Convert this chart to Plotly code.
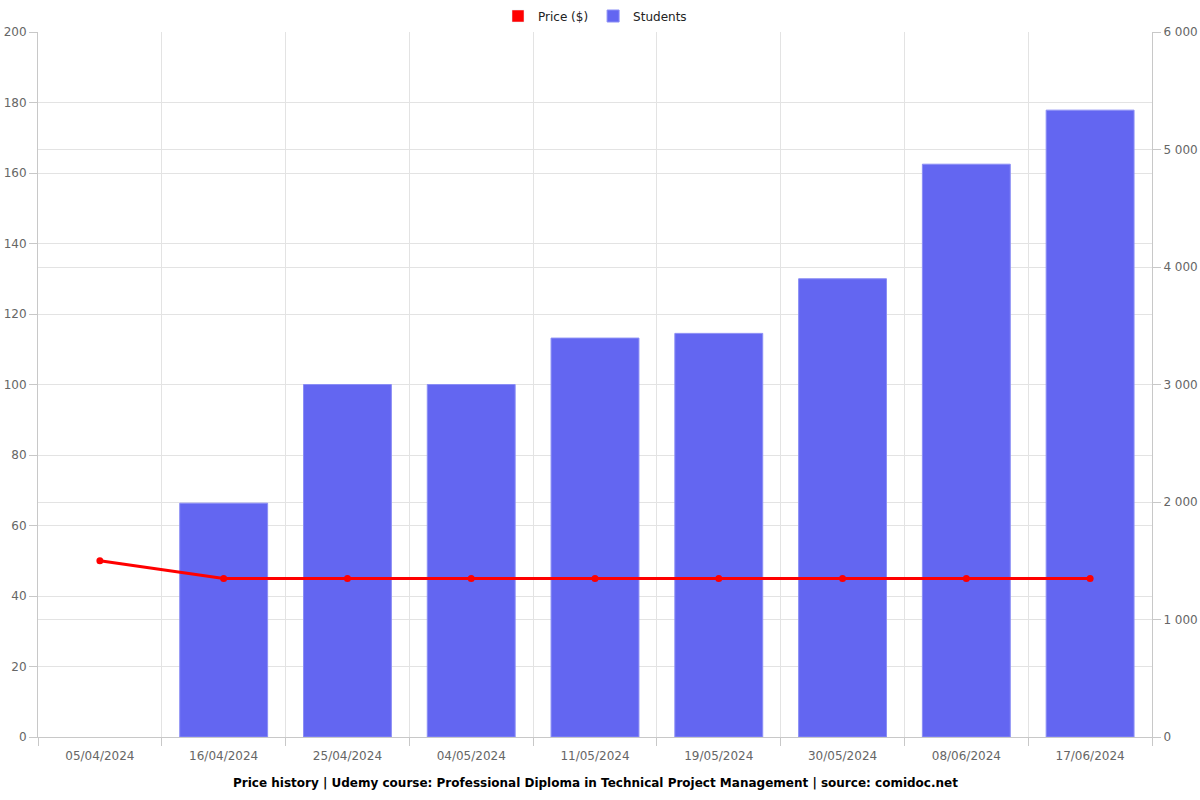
import plotly.graph_objects as go

dates = ["05/04/2024", "16/04/2024", "25/04/2024", "04/05/2024", "11/05/2024",
         "19/05/2024", "30/05/2024", "08/06/2024", "17/06/2024"]
price = [50, 45, 45, 45, 45, 45, 45, 45, 45]
students = [None, 1990, 3000, 3000, 3395, 3435, 3900, 4875, 5335]

left_ticks = list(range(0, 201, 20))
right_ticks = list(range(0, 6001, 1000))

title = "Price history | Udemy course: Professional Diploma in Technical Project Management | source: comidoc.net"

grid = "#e3e3e3"
axis_line = "#c8c8c8"
tick_font = dict(family="DejaVu Sans", size=12, color="#666666")

fig = go.Figure()
fig.add_trace(go.Bar(x=[dates[0]], y=[None], name="Price ($)", marker=dict(color="#ff0000"),
                     yaxis="y", showlegend=True, hoverinfo="skip"))
fig.add_trace(go.Bar(x=dates, y=students, name="Students", yaxis="y",
                     marker=dict(color="#6366f1", line=dict(color="#8b8ef5", width=1))))
fig.add_trace(go.Scatter(x=dates, y=price, name="Price ($)", mode="lines+markers",
                         line=dict(color="#ff0000", width=3), marker=dict(color="#ff0000", size=7),
                         showlegend=False, yaxis="y2"))

fig.update_layout(
    width=1200, height=800,
    margin=dict(l=38, r=48, t=32, b=63, autoexpand=False),
    paper_bgcolor="white", plot_bgcolor="white",
    separators=". ",
    barmode="overlay",
    bargap=0.29,
    font=dict(family="DejaVu Sans", size=12, color="#666666"),
    legend=dict(orientation="h", x=0.5, xanchor="center", y=1 + 16 / 705, yanchor="middle",
                font=dict(family="DejaVu Sans", size=12, color="#222222"),
                traceorder="normal"),
    xaxis=dict(type="category", tickson="boundaries", showgrid=True, gridcolor=grid,
               showline=True, linecolor=axis_line, ticks="outside", ticklen=8, tickcolor=axis_line,
               tickfont=tick_font, range=[-0.5, 8.5], ticklabelstandoff=8),
    yaxis2=dict(range=[0, 200], tickvals=left_ticks, overlaying="y", side="left",
                showgrid=True, gridcolor=grid,
                showline=True, linecolor=axis_line, ticks="outside", ticklen=8, tickcolor=axis_line,
                tickfont=tick_font, zeroline=False),
    yaxis=dict(range=[0, 6000], tickvals=right_ticks, side="right",
               showgrid=True, gridcolor=grid, showline=True, linecolor=axis_line,
               ticks="outside", ticklen=8, tickcolor=axis_line, tickfont=tick_font,
               separatethousands=True, tickformat=",d", zeroline=False),
    annotations=[dict(text="<b>" + title + "</b>", x=0.5, xref="paper", y=-46 / 705,
                      yref="paper", yanchor="middle", showarrow=False,
                      font=dict(family="DejaVu Sans", size=12, color="#000000"))],
)

fig.write_html("out.html", config={"displayModeBar": False},
               post_script="document.body.style.margin='0';")
